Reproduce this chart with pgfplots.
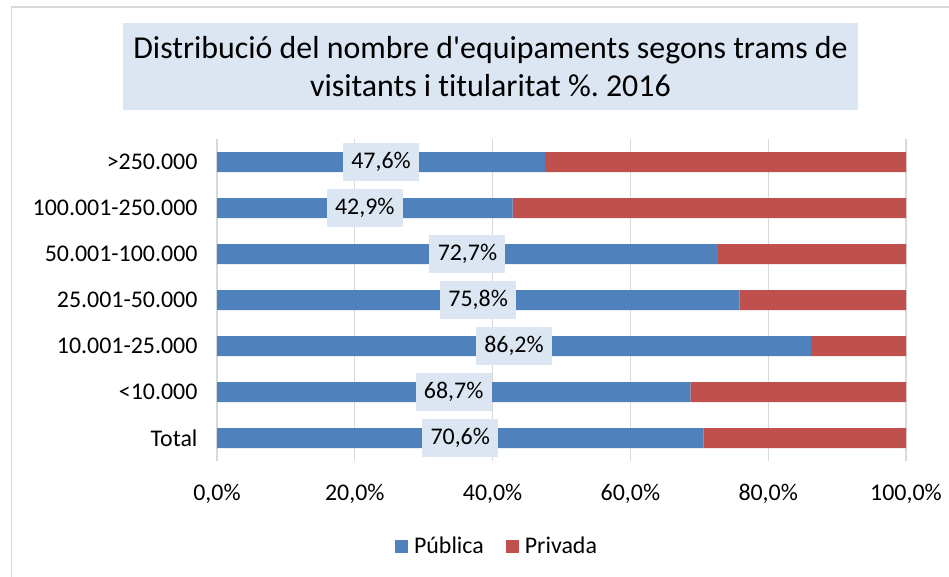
\documentclass[border=0pt]{standalone}
\usepackage{pgfplots}
\pgfplotsset{compat=1.18}
\usepackage{pgfplotstable}
\usepackage{fontspec}
\setmainfont{Carlito}[Ligatures={NoCommon}]
\frenchspacing
\definecolor{pubblue}{RGB}{79,129,189}
\definecolor{privred}{RGB}{192,80,77}
\definecolor{boxblue}{RGB}{220,230,242}
\definecolor{gridgray}{RGB}{217,217,217}
\pgfplotstableread{
y pub priv
0 70.6 29.4
1 68.7 31.3
2 86.2 13.8
3 75.8 24.2
4 72.7 27.3
5 42.9 57.1
6 47.6 52.4
}\datatable
\begin{document}
\begin{tikzpicture}
\useasboundingbox (0,0) rectangle (949bp,-577bp);
\fill[white] (0,0) rectangle (949bp,-577bp);
\draw[gridgray, line width=1.5bp] (11.5bp,-577bp) -- (11.5bp,-7bp) -- (949bp,-7bp);
\node[fill=boxblue, minimum width=735bp, minimum height=87bp, inner sep=0pt, align=center,
  font=\fontsize{32}{38}\selectfont] at (490.5bp,-66.5bp)
  {Distribució del nombre d\textquotesingle equipaments segons trams de\\visitants i titularitat \%. 2016};
\begin{axis}[
  at={(217bp,-461bp)}, anchor=south west,
  scale only axis, width=689bp, height=322bp,
  xbar stacked, bar width=20bp,
  xmin=0, xmax=100, ymin=-0.5, ymax=6.5,
  xtick={0,20,40,60,80,100},
  xticklabel={\pgfmathprintnumber[fixed,fixed zerofill,precision=1,use comma,assume math mode=true]{\tick}\%},
  ytick={0,1,2,3,4,5,6},
  yticklabels={Total,<10.000,10.001-25.000,25.001-50.000,50.001-100.000,100.001-250.000,>250.000},
  xmajorgrids, grid style={gridgray, line width=1.2bp},
  axis line style={draw=none}, tick style={draw=none},
  ticklabel style={font=\fontsize{24}{28}\selectfont},
  xticklabel style={yshift=-20bp},
  yticklabel style={xshift=-16bp},
  legend style={at={(280bp,-85bp)}, anchor=center, draw=none, fill=none,
    legend columns=2, font=\fontsize{24}{28}\selectfont,
    /tikz/every odd column/.append style={column sep=4bp},
    /tikz/every even column/.append style={column sep=20bp}},
  legend image code/.code={\fill[#1] (0bp,-6.5bp) rectangle (13bp,6.5bp);},
]
\addplot[fill=pubblue, draw=none] table[x=pub, y=y] {\datatable};
\addlegendentry{Pública}
\addplot[fill=privred, draw=none] table[x=priv, y=y] {\datatable};
\addlegendentry{Privada}
\end{axis}
\begin{axis}[
  at={(217bp,-461bp)}, anchor=south west,
  scale only axis, width=689bp, height=322bp,
  xmin=0, xmax=100, ymin=-0.5, ymax=6.5,
  hide axis, clip=false,
]
\addplot[draw=none, mark=none, nodes near coords, point meta=\thisrow{pub},
  nodes near coords align={center},
  nodes near coords={\pgfmathprintnumber[fixed,fixed zerofill,precision=1,use comma,assume math mode=true]{\pgfplotspointmeta}\%},
  every node near coord/.append style={anchor=center, fill=boxblue, minimum width=76bp,
    minimum height=38bp, inner sep=0pt, text=black, font=\fontsize{24}{28}\selectfont}]
  table[x expr=\thisrow{pub}/2, y=y] {\datatable};
\end{axis}
\end{tikzpicture}
\end{document}
